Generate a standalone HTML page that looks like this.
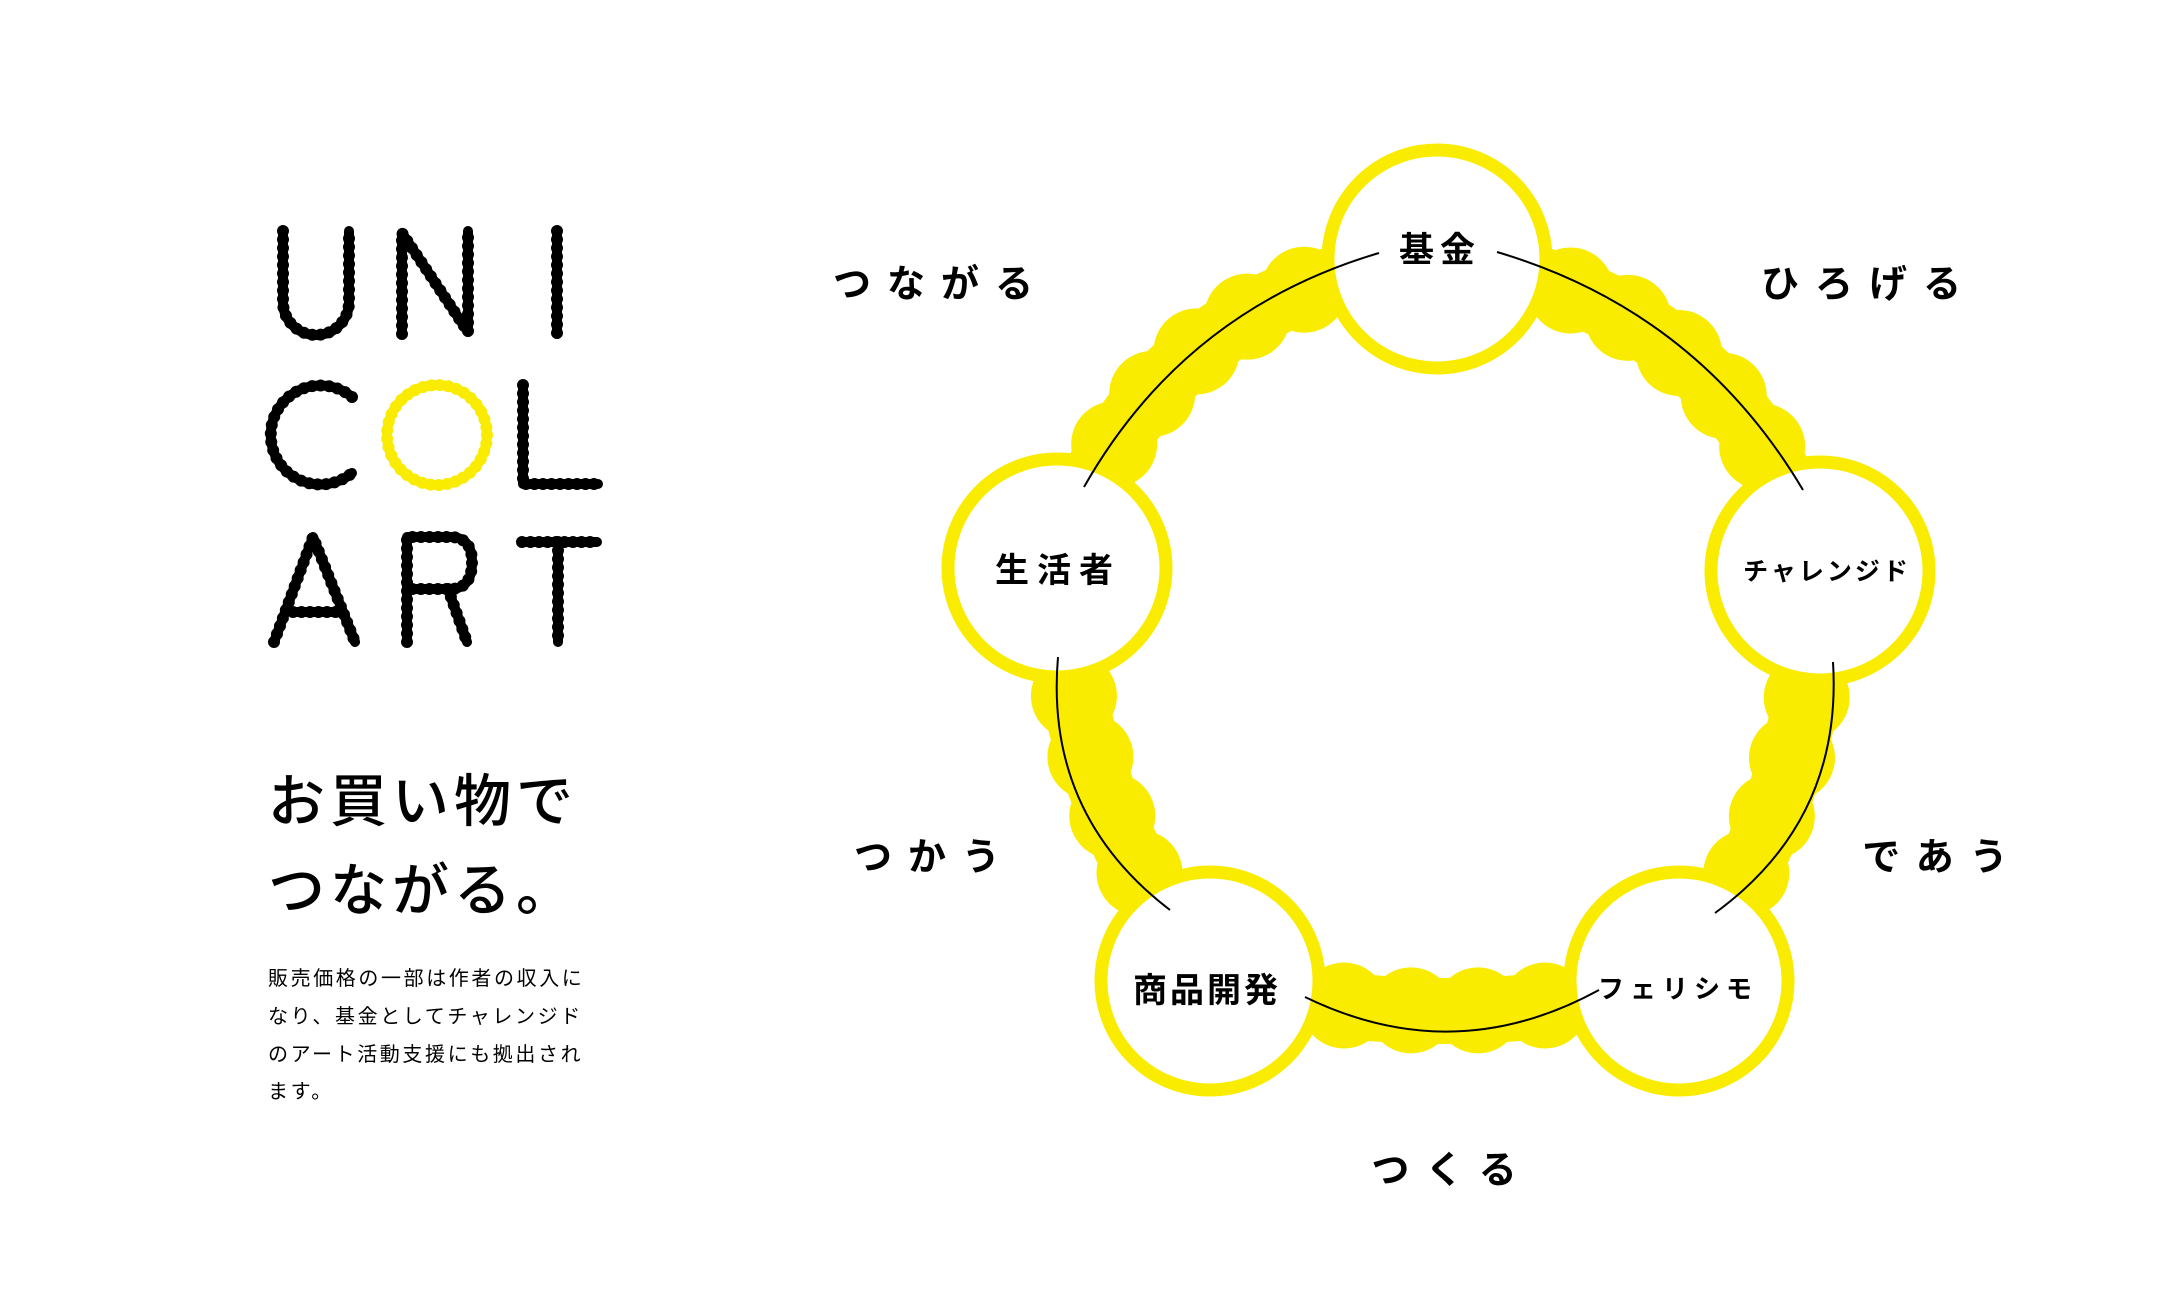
<!DOCTYPE html>
<html><head><meta charset="utf-8">
<style>
html,body{margin:0;padding:0;background:#fff;}
body{width:2182px;height:1309px;position:relative;overflow:hidden;font-family:"Liberation Sans","Noto Sans CJK JP",sans-serif;}
svg{position:absolute;left:0;top:0;}
.h{position:absolute;left:268px;font-size:57px;letter-spacing:5px;line-height:89px;top:758px;color:#000;font-weight:500;}
.p{position:absolute;left:268px;top:961px;font-size:20px;letter-spacing:2.6px;line-height:37.8px;color:#000;white-space:nowrap;}
</style></head><body>
<svg id="s" width="2182" height="1309" viewBox="0 0 2182 1309" xmlns="http://www.w3.org/2000/svg">
<g id="beads" fill="#FAEC00" stroke="none"></g>
<g id="nodes"></g>
<g id="lines" fill="none" stroke="#000" stroke-width="2"></g>
<defs>
<g id="logo">
<path d="M283 231 V302 A33 33 0 0 0 349 302 V231"/>
<path d="M402 334 V233 L468 332 V231"/>
<path d="M557 231 V334"/>
<path d="M352 397 A49.5 49.5 0 1 0 352 473"/>
<path d="M523 385 V484 H598"/>
<path d="M274 642 L313 537 L355 642 M293 612 H338"/>
<path d="M407 642 V537 H450 Q472 537 472 562 Q472 589 450 589 H407 M448 589 L467 642"/>
<path d="M522 542 H597 M558 542 V642"/>
</g>
</defs>
<use href="#logo" fill="none" stroke="#000" stroke-width="10" stroke-linecap="round" stroke-linejoin="round"/>
<use href="#logo" fill="none" stroke="#000" stroke-width="12" stroke-linecap="round" stroke-dasharray="0 8.5"/>
<circle cx="437" cy="435" r="50" fill="none" stroke="#FAEC00" stroke-width="10"/>
<circle cx="437" cy="435" r="50" fill="none" stroke="#FAEC00" stroke-width="12" stroke-linecap="round" stroke-dasharray="0 8.5"/>
<g font-family="Liberation Sans, Noto Sans CJK JP, sans-serif" font-weight="bold" fill="#000" text-anchor="middle">
<text x="941" y="297" font-size="38" letter-spacing="16">つながる</text>
<text x="1869" y="297" font-size="38" letter-spacing="16">ひろげる</text>
<text x="935" y="870" font-size="38" letter-spacing="16">つかう</text>
<text x="1943" y="870" font-size="38" letter-spacing="16">であう</text>
<text x="1452" y="1183" font-size="38" letter-spacing="16">つくる</text>
<text x="1440" y="262" font-size="35" letter-spacing="6">基金</text>
<text x="1058" y="582" font-size="34" letter-spacing="8">生活者</text>
<text x="1827" y="580" font-size="25" letter-spacing="3">チャレンジド</text>
<text x="1207" y="1002" font-size="34" letter-spacing="3">商品開発</text>
<text x="1678" y="998" font-size="26" letter-spacing="6">フェリシモ</text>
</g>
</svg>
<div class="p">販売価格の一部は作者の収入に<br>なり、基金としてチャレンジド<br>のアート活動支援にも拠出され<br>ます。</div>
<div class="h">お買い物で<br>つながる。</div>
<script>
(function(){
var NS="http://www.w3.org/2000/svg";
var Y="#FAEC00";
var C=[1445,650];
var N={T:[1437,259],R:[1820,571],BR:[1679,981],BL:[1210,981],L:[1057,568]};
var segs=[["T","R",80],["R","BR",35],["BR","BL",30],["BL","L",35],["L","T",80]];
var beads=document.getElementById("beads"),nodes=document.getElementById("nodes"),lines=document.getElementById("lines");
function el(n,a,p){var e=document.createElementNS(NS,n);for(var k in a)e.setAttribute(k,a[k]);p.appendChild(e);return e;}
function ctrl(A,B,s){var mx=(A[0]+B[0])/2,my=(A[1]+B[1])/2;var dx=B[0]-A[0],dy=B[1]-A[1],L=Math.hypot(dx,dy);var nx=-dy/L,ny=dx/L;
 if((mx-C[0])*nx+(my-C[1])*ny<0){nx=-nx;ny=-ny;}return [mx+nx*2*s,my+ny*2*s];}
function q(A,K,B,t){var u=1-t;return [u*u*A[0]+2*u*t*K[0]+t*t*B[0],u*u*A[1]+2*u*t*K[1]+t*t*B[1]];}
segs.forEach(function(sg){var A=N[sg[0]],B=N[sg[1]];var K=ctrl(A,B,sg[2]);
 el("path",{d:"M"+A[0]+" "+A[1]+" Q"+K[0]+" "+K[1]+" "+B[0]+" "+B[1],fill:"none",stroke:Y,"stroke-width":66},beads);
 var L=Math.hypot(B[0]-A[0],B[1]-A[1])*1.05;var n=Math.round(L/66);
 for(var i=0;i<=n;i++){var p=q(A,K,B,i/n);el("circle",{cx:p[0],cy:p[1],r:43,fill:Y},beads);}
});
for(var k in N){el("circle",{cx:N[k][0],cy:N[k][1],r:109,fill:"#fff",stroke:Y,"stroke-width":13},nodes);}
var arcs=[[[1497,252],[1803,490]],[[1833,662],[1715,913]],[[1599,990],[1305,997]],[[1170,910],[1058,657]],[[1084,487],[1379,253]]];
arcs.forEach(function(a){var S=a[0],E=a[1];var K=ctrl(S,E,38);
 el("path",{d:"M"+S[0]+" "+S[1]+" Q"+K[0]+" "+K[1]+" "+E[0]+" "+E[1]},lines);});
})();
</script>
</body></html>
